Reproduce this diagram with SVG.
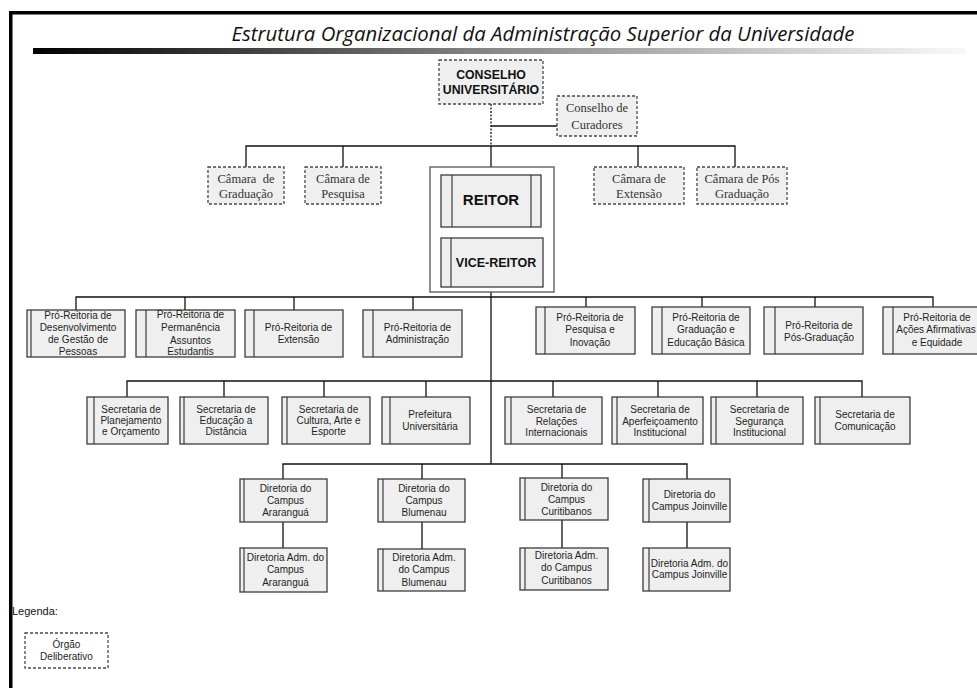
<svg xmlns="http://www.w3.org/2000/svg" width="977" height="688" viewBox="0 0 977 688">
  <defs>
    <linearGradient id="bar" x1="0" y1="0" x2="1" y2="0">
      <stop offset="0" stop-color="#000"/>
      <stop offset="0.5" stop-color="#8a8a8a"/>
      <stop offset="1" stop-color="#f9f9f9"/>
    </linearGradient>
    <style>
      .box { fill: #efefef; stroke: #3c3c3c; stroke-width: 1.3; }
      .inner { stroke: #3c3c3c; stroke-width: 1.2; }
      .dash { fill: #efefef; stroke: #4a4a4a; stroke-width: 1.3; stroke-dasharray: 3 2; }
      .wire { fill: none; stroke: #111; stroke-width: 1.3; }
      .dot { fill: none; stroke: #111; stroke-width: 1.3; stroke-dasharray: 2 1.5; }
      .t { font-family: "Liberation Sans", Arial, sans-serif; font-size: 10px; fill: #1e1e1e; text-anchor: middle; }
      .s { font-family: "Liberation Serif", "Times New Roman", serif; font-size: 12.5px; fill: #333; text-anchor: middle; }
      .b { font-family: "Liberation Sans", Arial, sans-serif; font-weight: bold; fill: #111; text-anchor: middle; }
    </style>
  </defs>

  <rect width="977" height="688" fill="#fff"/>

  <!-- page frame -->
  <rect x="9" y="11" width="968" height="3.5" fill="#000"/>
  <rect x="9" y="11" width="3.5" height="677" fill="#000"/>

  <!-- heading -->
  <text x="543" y="41" font-family="'Open Sans', 'Liberation Sans', sans-serif" font-style="italic" font-size="20" fill="#111" text-anchor="middle" textLength="623" lengthAdjust="spacingAndGlyphs">Estrutura Organizacional da Administração Superior da Universidade</text>
  <rect x="33" y="48" width="933" height="6" fill="url(#bar)"/>

  <!-- connectors -->
  <g id="connectors">
    <path class="dot" d="M491 104 V146"/>
    <path class="wire" d="M491 126 H557"/>
    <path class="wire" d="M246 167 V146 H735 V167 M343 146 V167 M638 146 V167 M491 146 V175"/>
    <path class="wire" d="M491 287 V464"/>
    <path class="wire" d="M76 310 V297 H933 V307 M185 297 V310 M294 297 V310 M413 297 V310 M586 297 V307 M702 297 V307 M815 297 V307"/>
    <path class="wire" d="M127 397 V381 H862 V397 M224 381 V397 M324 381 V397 M426 381 V397 M553 381 V397 M658 381 V397 M757 381 V397"/>
    <path class="wire" d="M283 479 V464 H687 V479 M422 464 V479 M562 464 V478"/>
    <path class="wire" d="M283 522 V548 M422 522 V549 M562 520 V548 M687 522 V548"/>
  </g>

  <!-- deliberative bodies -->
  <g id="conselho-universitario">
    <rect class="dash" x="439" y="60" width="104" height="44"/>
    <text class="b" font-size="12.3" x="491" y="79">CONSELHO</text>
    <text class="b" font-size="12.3" x="491" y="93.5">UNIVERSITÁRIO</text>
  </g>
  <g id="conselho-curadores">
    <rect class="dash" x="557" y="96" width="80" height="40"/>
    <text class="s" x="597" y="111.5">Conselho de</text>
    <text class="s" x="597" y="129">Curadores</text>
  </g>
  <g id="camara-graduacao">
    <rect class="dash" x="208" y="167" width="76" height="37"/>
    <text class="s" x="246" y="183" xml:space="preserve">Câmara  de</text>
    <text class="s" x="246" y="198">Graduação</text>
  </g>
  <g id="camara-pesquisa">
    <rect class="dash" x="305" y="167" width="76" height="37"/>
    <text class="s" x="343" y="183">Câmara de</text>
    <text class="s" x="343" y="198">Pesquisa</text>
  </g>
  <g id="camara-extensao">
    <rect class="dash" x="594" y="167" width="90" height="37"/>
    <text class="s" x="639" y="183">Câmara de</text>
    <text class="s" x="639" y="198">Extensão</text>
  </g>
  <g id="camara-pos">
    <rect class="dash" x="697" y="167" width="90" height="37"/>
    <text class="s" x="742" y="183">Câmara de Pós</text>
    <text class="s" x="742" y="198">Graduação</text>
  </g>

  <!-- rectorate -->
  <g id="reitoria">
    <rect x="430" y="167" width="124" height="125" fill="#fff" stroke="#555" stroke-width="1.3"/>
  </g>
  <g id="reitor">
    <rect class="box" x="441" y="175" width="100" height="52"/>
    <line class="inner" x1="452" y1="175" x2="452" y2="227"/>
    <line class="inner" x1="531" y1="175" x2="531" y2="227"/>
    <text class="b" font-size="15" x="491" y="205">REITOR</text>
  </g>
  <g id="vice-reitor">
    <rect class="box" x="441" y="238" width="102" height="49"/>
    <line class="inner" x1="451" y1="238" x2="451" y2="287"/>
    <text class="b" font-size="12.5" x="496" y="267">VICE-REITOR</text>
  </g>

  <!-- pro-rectorates -->
  <g id="prp-pessoas">
    <rect class="box" x="27" y="310" width="98" height="47"/>
    <line class="inner" x1="31" y1="310" x2="31" y2="357"/>
    <text class="t" x="78" y="318.5">Pró-Reitoria de</text>
    <text class="t" x="78" y="330.5">Desenvolvimento</text>
    <text class="t" x="78" y="343">de Gestão de</text>
    <text class="t" x="78" y="355">Pessoas</text>
  </g>
  <g id="prp-permanencia">
    <rect class="box" x="136" y="310" width="99" height="47"/>
    <line class="inner" x1="146" y1="310" x2="146" y2="357"/>
    <text class="t" x="190.5" y="318">Pró-Reitoria de</text>
    <text class="t" x="190.5" y="331">Permanência</text>
    <text class="t" x="190.5" y="343.5">Assuntos</text>
    <text class="t" x="190.5" y="355">Estudantis</text>
  </g>
  <g id="prp-extensao">
    <rect class="box" x="245" y="310" width="98" height="47"/>
    <line class="inner" x1="254" y1="310" x2="254" y2="357"/>
    <text class="t" x="298.5" y="330.5">Pró-Reitoria de</text>
    <text class="t" x="298.5" y="342.5">Extensão</text>
  </g>
  <g id="prp-administracao">
    <rect class="box" x="363" y="310" width="99" height="47"/>
    <line class="inner" x1="373" y1="310" x2="373" y2="357"/>
    <text class="t" x="417.5" y="330.5">Pró-Reitoria de</text>
    <text class="t" x="417.5" y="342.5">Administração</text>
  </g>
  <g id="prp-pesquisa">
    <rect class="box" x="536" y="307" width="99" height="47"/>
    <line class="inner" x1="545" y1="307" x2="545" y2="354"/>
    <text class="t" x="590" y="320.5">Pró-Reitoria de</text>
    <text class="t" x="590" y="333">Pesquisa e</text>
    <text class="t" x="590" y="345.5">Inovação</text>
  </g>
  <g id="prp-graduacao">
    <rect class="box" x="652" y="307" width="98" height="47"/>
    <line class="inner" x1="662" y1="307" x2="662" y2="354"/>
    <text class="t" x="706" y="320.5">Pró-Reitoria de</text>
    <text class="t" x="706" y="333">Graduação e</text>
    <text class="t" x="706" y="345.5">Educação Básica</text>
  </g>
  <g id="prp-pos">
    <rect class="box" x="764" y="307" width="99" height="47"/>
    <line class="inner" x1="775" y1="307" x2="775" y2="354"/>
    <text class="t" x="819" y="328.5">Pró-Reitoria de</text>
    <text class="t" x="819" y="340.5">Pós-Graduação</text>
  </g>
  <g id="prp-acoes">
    <rect class="box" x="883" y="307" width="100" height="47"/>
    <line class="inner" x1="893" y1="307" x2="893" y2="354"/>
    <text class="t" x="937" y="320.5">Pró-Reitoria de</text>
    <text class="t" x="936" y="333">Ações Afirmativas</text>
    <text class="t" x="937" y="345.5">e Equidade</text>
  </g>

  <!-- secretariats -->
  <g id="sec-planejamento">
    <rect class="box" x="87" y="397" width="81" height="47"/>
    <line class="inner" x1="94" y1="397" x2="94" y2="444"/>
    <text class="t" x="131" y="412.5">Secretaria de</text>
    <text class="t" x="131" y="423.5">Planejamento</text>
    <text class="t" x="131" y="435">e Orçamento</text>
  </g>
  <g id="sec-ead">
    <rect class="box" x="180" y="397" width="88" height="47"/>
    <line class="inner" x1="184" y1="397" x2="184" y2="444"/>
    <text class="t" x="226" y="412.5">Secretaria de</text>
    <text class="t" x="226" y="423.5">Educação a</text>
    <text class="t" x="226" y="435">Distância</text>
  </g>
  <g id="sec-cultura">
    <rect class="box" x="282" y="397" width="88" height="47"/>
    <line class="inner" x1="287" y1="397" x2="287" y2="444"/>
    <text class="t" x="328.5" y="412.5">Secretaria de</text>
    <text class="t" x="328.5" y="423.5">Cultura, Arte e</text>
    <text class="t" x="328.5" y="435">Esporte</text>
  </g>
  <g id="prefeitura">
    <rect class="box" x="382" y="397" width="88" height="47"/>
    <line class="inner" x1="390" y1="397" x2="390" y2="444"/>
    <text class="t" x="430" y="417.5">Prefeitura</text>
    <text class="t" x="430" y="429.5">Universitária</text>
  </g>
  <g id="sec-relacoes">
    <rect class="box" x="505" y="397" width="97" height="47"/>
    <line class="inner" x1="511" y1="397" x2="511" y2="444"/>
    <text class="t" x="556.5" y="412.5">Secretaria de</text>
    <text class="t" x="556.5" y="424.5">Relações</text>
    <text class="t" x="556.5" y="436">Internacionais</text>
  </g>
  <g id="sec-aperfeicoamento">
    <rect class="box" x="612" y="397" width="91" height="47"/>
    <line class="inner" x1="617" y1="397" x2="617" y2="444"/>
    <text class="t" x="660" y="412.5">Secretaria de</text>
    <text class="t" x="660" y="424.5">Aperfeiçoamento</text>
    <text class="t" x="660" y="436">Institucional</text>
  </g>
  <g id="sec-seguranca">
    <rect class="box" x="711" y="397" width="92" height="47"/>
    <line class="inner" x1="716" y1="397" x2="716" y2="444"/>
    <text class="t" x="759.5" y="412.5">Secretaria de</text>
    <text class="t" x="759.5" y="424.5">Segurança</text>
    <text class="t" x="759.5" y="436">Institucional</text>
  </g>
  <g id="sec-comunicacao">
    <rect class="box" x="815" y="397" width="95" height="47"/>
    <line class="inner" x1="820" y1="397" x2="820" y2="444"/>
    <text class="t" x="865" y="417.5">Secretaria de</text>
    <text class="t" x="865" y="429.5">Comunicação</text>
  </g>

  <!-- campus directorates -->
  <g id="dir-ararangua">
    <rect class="box" x="240" y="479" width="87" height="43"/>
    <line class="inner" x1="244" y1="479" x2="244" y2="522"/>
    <text class="t" x="285.5" y="491.5">Diretoria do</text>
    <text class="t" x="285.5" y="503.5">Campus</text>
    <text class="t" x="285.5" y="515.5">Araranguá</text>
  </g>
  <g id="dir-blumenau">
    <rect class="box" x="378" y="479" width="87" height="43"/>
    <line class="inner" x1="383" y1="479" x2="383" y2="522"/>
    <text class="t" x="424" y="491.5">Diretoria do</text>
    <text class="t" x="424" y="503.5">Campus</text>
    <text class="t" x="424" y="515.5">Blumenau</text>
  </g>
  <g id="dir-curitibanos">
    <rect class="box" x="520" y="478" width="88" height="42"/>
    <line class="inner" x1="525" y1="478" x2="525" y2="520"/>
    <text class="t" x="566.5" y="490.5">Diretoria do</text>
    <text class="t" x="566.5" y="502.5">Campus</text>
    <text class="t" x="566.5" y="514.5">Curitibanos</text>
  </g>
  <g id="dir-joinville">
    <rect class="box" x="643" y="479" width="87" height="43"/>
    <line class="inner" x1="649" y1="479" x2="649" y2="522"/>
    <text class="t" x="689.5" y="497.5">Diretoria do</text>
    <text class="t" x="689.5" y="509.5">Campus Joinville</text>
  </g>

  <!-- campus administrative directorates -->
  <g id="adm-ararangua">
    <rect class="box" x="240" y="548" width="87" height="44"/>
    <line class="inner" x1="244" y1="548" x2="244" y2="592"/>
    <text class="t" x="285.5" y="560.5">Diretoria Adm. do</text>
    <text class="t" x="285.5" y="573">Campus</text>
    <text class="t" x="285.5" y="585.5">Araranguá</text>
  </g>
  <g id="adm-blumenau">
    <rect class="box" x="378" y="549" width="87" height="42"/>
    <line class="inner" x1="383" y1="549" x2="383" y2="591"/>
    <text class="t" x="424" y="561">Diretoria Adm.</text>
    <text class="t" x="424" y="573">do Campus</text>
    <text class="t" x="424" y="585.5">Blumenau</text>
  </g>
  <g id="adm-curitibanos">
    <rect class="box" x="520" y="548" width="88" height="42"/>
    <line class="inner" x1="525" y1="548" x2="525" y2="590"/>
    <text class="t" x="566.5" y="558.5">Diretoria Adm.</text>
    <text class="t" x="566.5" y="571">do Campus</text>
    <text class="t" x="566.5" y="583.5">Curitibanos</text>
  </g>
  <g id="adm-joinville">
    <rect class="box" x="643" y="548" width="87" height="43"/>
    <line class="inner" x1="649" y1="548" x2="649" y2="591"/>
    <text class="t" x="689.5" y="566.5">Diretoria Adm. do</text>
    <text class="t" x="689.5" y="578">Campus Joinville</text>
  </g>

  <!-- legend -->
  <g id="legenda">
    <text x="12" y="615" font-family="'Liberation Sans', Arial, sans-serif" font-size="11" fill="#111">Legenda:</text>
    <rect x="25" y="633" width="83" height="35" fill="#fff" stroke="#4a4a4a" stroke-width="1.3" stroke-dasharray="3 2"/>
    <text class="t" x="66.5" y="647.5">Órgão</text>
    <text class="t" x="66.5" y="659.5">Deliberativo</text>
  </g>
</svg>
